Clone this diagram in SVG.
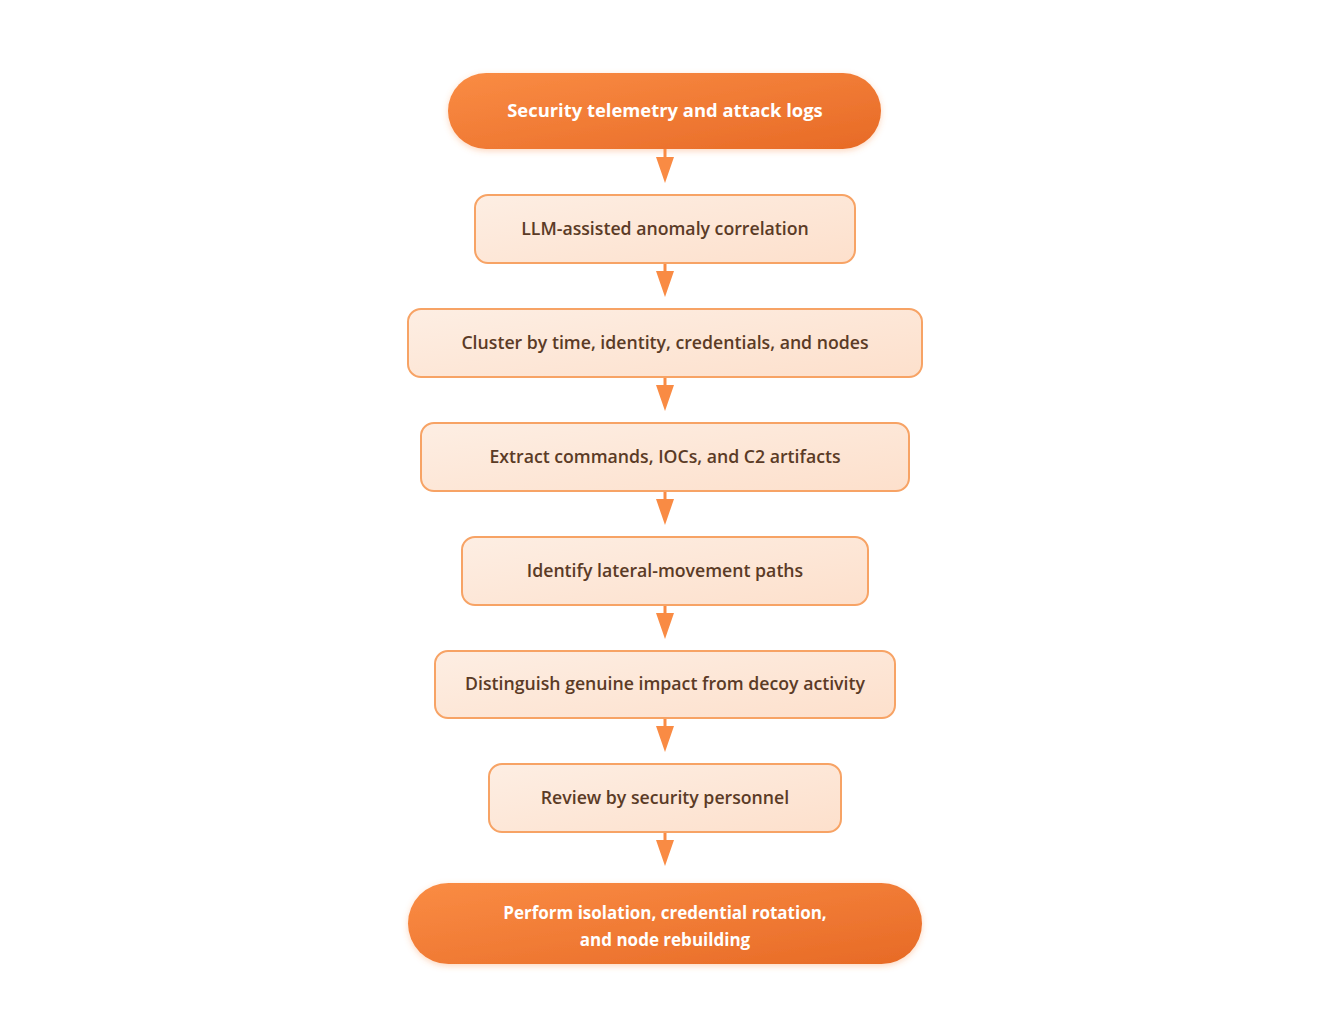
<svg xmlns="http://www.w3.org/2000/svg" width="1330" height="1013" viewBox="0 0 1330 1013">
<style>
.pill{fill:url(#gPill);filter:url(#sh)}
.box{fill:url(#gBox);stroke:#f7a365;stroke-width:2}
.tw{font-family:"Open Sans","Noto Sans",sans-serif;font-weight:700;font-size:18.4px;fill:#ffffff;text-anchor:middle}
.tw2{font-size:17px}
.tb{font-family:"Open Sans","Noto Sans",sans-serif;font-weight:600;font-size:17.7px;fill:#5b3b26;text-anchor:middle}
.ln{stroke:#f98b44;stroke-width:3}
.ah{fill:#f98b44}
</style>
<defs>
<linearGradient id="gPill" x1="0" y1="0" x2="1" y2="1">
<stop offset="0" stop-color="#fa8c44"/>
<stop offset="1" stop-color="#e76a26"/>
</linearGradient>
<linearGradient id="gBox" x1="0" y1="0" x2="1" y2="1">
<stop offset="0" stop-color="#fdeee3"/>
<stop offset="1" stop-color="#fde0cc"/>
</linearGradient>
<filter id="sh" x="-10%" y="-30%" width="120%" height="160%">
<feDropShadow dx="0" dy="2" stdDeviation="3" flood-color="#f98b44" flood-opacity="0.35"/>
</filter>
</defs>
<rect width="1330" height="1013" fill="#ffffff"/>
<g id="connectors">
<line class="ln" x1="665" y1="149" x2="665" y2="157"/><polygon class="ah" points="656,157 674,157 665,183"/>
<line class="ln" x1="665" y1="263" x2="665" y2="271"/><polygon class="ah" points="656,271 674,271 665,297"/>
<line class="ln" x1="665" y1="377" x2="665" y2="385"/><polygon class="ah" points="656,385 674,385 665,411"/>
<line class="ln" x1="665" y1="491" x2="665" y2="499"/><polygon class="ah" points="656,499 674,499 665,525"/>
<line class="ln" x1="665" y1="605" x2="665" y2="613"/><polygon class="ah" points="656,613 674,613 665,639"/>
<line class="ln" x1="665" y1="718" x2="665" y2="726"/><polygon class="ah" points="656,726 674,726 665,752"/>
<line class="ln" x1="665" y1="832" x2="665" y2="840"/><polygon class="ah" points="656,840 674,840 665,866"/>
</g>
<g id="n1"><rect class="pill" x="448" y="73" width="433" height="76" rx="38"/><text class="tw" x="665" y="117">Security telemetry and attack logs</text></g>
<g id="n2"><rect class="box" x="475" y="195" width="380" height="68" rx="13"/><text class="tb" x="665" y="235">LLM-assisted anomaly correlation</text></g>
<g id="n3"><rect class="box" x="408" y="309" width="514" height="68" rx="13"/><text class="tb" x="665" y="349">Cluster by time, identity, credentials, and nodes</text></g>
<g id="n4"><rect class="box" x="421" y="423" width="488" height="68" rx="13"/><text class="tb" x="665" y="463">Extract commands, IOCs, and C2 artifacts</text></g>
<g id="n5"><rect class="box" x="462" y="537" width="406" height="68" rx="13"/><text class="tb" x="665" y="577">Identify lateral-movement paths</text></g>
<g id="n6"><rect class="box" x="435" y="651" width="460" height="67" rx="13"/><text class="tb" x="665" y="690">Distinguish genuine impact from decoy activity</text></g>
<g id="n7"><rect class="box" x="489" y="764" width="352" height="68" rx="13"/><text class="tb" x="665" y="804">Review by security personnel</text></g>
<g id="n8"><rect class="pill" x="408" y="883" width="514" height="81" rx="40.5"/><text class="tw tw2" x="665" y="919">Perform isolation, credential rotation,</text><text class="tw tw2" x="665" y="946">and node rebuilding</text></g>
</svg>
